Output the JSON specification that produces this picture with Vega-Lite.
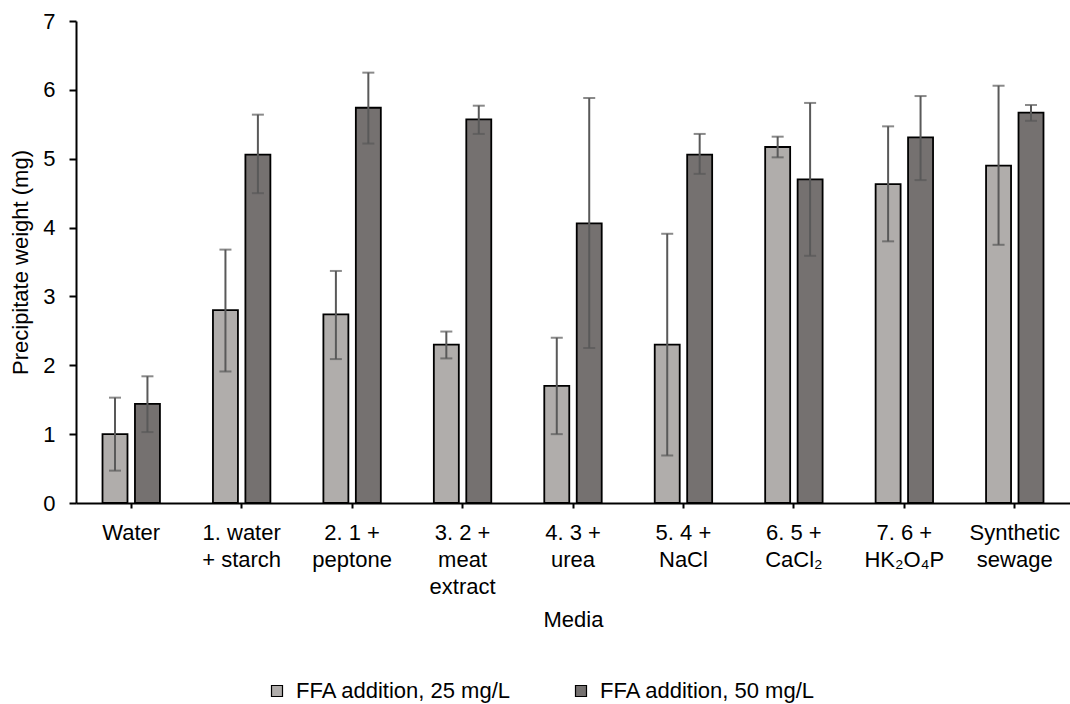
{
  "$schema": "https://vega.github.io/schema/vega-lite/v6.json",
  "autosize": "none",
  "width": 994,
  "height": 482,
  "padding": {"left": 76, "top": 21, "right": 0, "bottom": 201},
  "background": "white",
  "config": {
    "font": "Liberation Sans",
    "view": {"stroke": null},
    "axis": {"labelFont": "Liberation Sans", "titleFont": "Liberation Sans", "labelColor": "#000", "titleColor": "#000", "titleFontWeight": "normal", "grid": false, "domainColor": "#000", "tickColor": "#000", "domainWidth": 2, "tickWidth": 2, "labelFontSize": 22, "titleFontSize": 22}
  },
  "data": {
    "values": [
      {"media": "Water", "series": "FFA addition, 25 mg/L", "mean": 1.00, "lo": 0.47, "hi": 1.53},
      {"media": "Water", "series": "FFA addition, 50 mg/L", "mean": 1.44, "lo": 1.03, "hi": 1.84},
      {"media": "1. water|+ starch", "series": "FFA addition, 25 mg/L", "mean": 2.80, "lo": 1.91, "hi": 3.68},
      {"media": "1. water|+ starch", "series": "FFA addition, 50 mg/L", "mean": 5.06, "lo": 4.50, "hi": 5.64},
      {"media": "2. 1 +|peptone", "series": "FFA addition, 25 mg/L", "mean": 2.74, "lo": 2.09, "hi": 3.37},
      {"media": "2. 1 +|peptone", "series": "FFA addition, 50 mg/L", "mean": 5.74, "lo": 5.22, "hi": 6.25},
      {"media": "3. 2 +|meat|extract", "series": "FFA addition, 25 mg/L", "mean": 2.30, "lo": 2.10, "hi": 2.49},
      {"media": "3. 2 +|meat|extract", "series": "FFA addition, 50 mg/L", "mean": 5.57, "lo": 5.36, "hi": 5.77},
      {"media": "4. 3 +|urea", "series": "FFA addition, 25 mg/L", "mean": 1.70, "lo": 1.00, "hi": 2.40},
      {"media": "4. 3 +|urea", "series": "FFA addition, 50 mg/L", "mean": 4.06, "lo": 2.25, "hi": 5.88},
      {"media": "5. 4 +|NaCl", "series": "FFA addition, 25 mg/L", "mean": 2.30, "lo": 0.69, "hi": 3.91},
      {"media": "5. 4 +|NaCl", "series": "FFA addition, 50 mg/L", "mean": 5.06, "lo": 4.78, "hi": 5.36},
      {"media": "6. 5 +|CaCl₂", "series": "FFA addition, 25 mg/L", "mean": 5.17, "lo": 5.02, "hi": 5.32},
      {"media": "6. 5 +|CaCl₂", "series": "FFA addition, 50 mg/L", "mean": 4.70, "lo": 3.59, "hi": 5.81},
      {"media": "7. 6 +|HK₂O₄P", "series": "FFA addition, 25 mg/L", "mean": 4.63, "lo": 3.80, "hi": 5.47},
      {"media": "7. 6 +|HK₂O₄P", "series": "FFA addition, 50 mg/L", "mean": 5.31, "lo": 4.69, "hi": 5.91},
      {"media": "Synthetic|sewage", "series": "FFA addition, 25 mg/L", "mean": 4.90, "lo": 3.75, "hi": 6.06},
      {"media": "Synthetic|sewage", "series": "FFA addition, 50 mg/L", "mean": 5.67, "lo": 5.55, "hi": 5.78}
    ]
  },
  "encoding": {
    "x": {
      "field": "media", "type": "nominal", "sort": null, "title": "Media",
      "scale": {"paddingInner": 0.48, "paddingOuter": 0.24},
      "axis": {"labelAngle": 0, "labelExpr": "split(datum.label, '|')", "labelLineHeight": 27, "labelPadding": 14, "tickSize": 5, "titlePadding": 12, "labelBaseline": "top", "labelLimit": 0}
    },
    "xOffset": {"field": "series", "type": "nominal", "scale": {"paddingInner": 0.23, "paddingOuter": 0}}
  },
  "layer": [
    {
      "mark": {"type": "bar", "stroke": "#000", "strokeWidth": 1.8},
      "encoding": {
        "y": {"field": "mean", "type": "quantitative", "title": "Precipitate weight (mg)",
          "scale": {"domain": [0, 7], "nice": false},
          "axis": {"values": [0, 1, 2, 3, 4, 5, 6, 7], "format": "d", "tickSize": 7, "labelPadding": 14, "titlePadding": 10}},
        "fill": {
          "field": "series", "type": "nominal",
          "scale": {"range": ["#b0adab", "#757170"]},
          "legend": {"title": null, "orient": "none", "direction": "horizontal", "legendX": 190, "legendY": 659, "symbolType": "square", "symbolSize": 121, "symbolStrokeColor": "#000", "symbolStrokeWidth": 1.2, "labelFontSize": 22, "labelColor": "#000", "labelFont": "Liberation Sans", "labelLimit": 0, "columnPadding": 58, "labelOffset": 8}
        }
      }
    },
    {
      "mark": {"type": "rule", "color": "#595959", "strokeWidth": 2},
      "encoding": {
        "y": {"field": "lo", "type": "quantitative"},
        "y2": {"field": "hi"}
      }
    },
    {
      "mark": {"type": "tick", "color": "#595959", "thickness": 2, "size": 12},
      "encoding": {"y": {"field": "lo", "type": "quantitative"}}
    },
    {
      "mark": {"type": "tick", "color": "#595959", "thickness": 2, "size": 12},
      "encoding": {"y": {"field": "hi", "type": "quantitative"}}
    }
  ]
}
